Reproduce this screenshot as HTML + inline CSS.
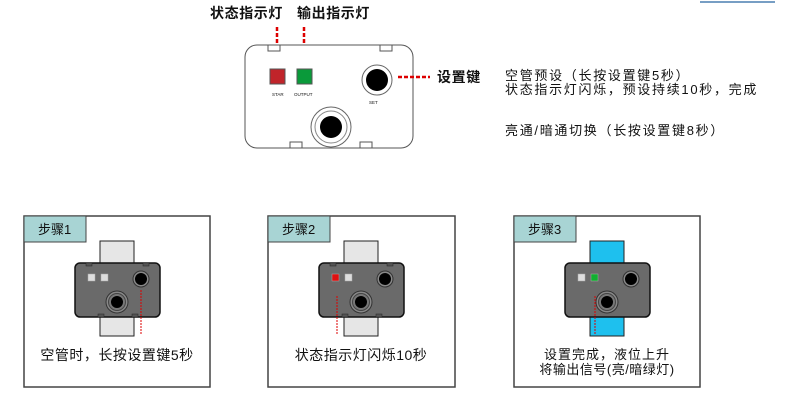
<!DOCTYPE html>
<html><head><meta charset="utf-8"><style>
html,body{margin:0;padding:0;background:#fff;}
svg{display:block;}
text{font-family:"Liberation Sans","Noto Sans CJK SC",sans-serif;fill:#111;}
</style></head><body>
<svg width="790" height="416" viewBox="0 0 790 416" xmlns="http://www.w3.org/2000/svg">
<defs>
<g id="dev">
  <rect x="100" y="241" width="34" height="95" fill="#e6e6e6" stroke="#222" stroke-width="1"/>
  <rect x="75" y="263" width="85" height="54" rx="5" fill="#6a6a6a" stroke="#111" stroke-width="1.5"/>
  <rect x="86" y="263" width="6" height="3" fill="#555" stroke="#222" stroke-width="0.5"/>
  <rect x="143" y="263" width="6" height="3" fill="#555" stroke="#222" stroke-width="0.5"/>
  <rect x="98" y="314" width="6" height="3" fill="#555" stroke="#222" stroke-width="0.5"/>
  <rect x="132" y="314" width="6" height="3" fill="#555" stroke="#222" stroke-width="0.5"/>
  <circle cx="141" cy="279" r="8" fill="#888" stroke="#333"/>
  <circle cx="141" cy="279" r="6" fill="#000"/>
  <circle cx="117" cy="302" r="11" fill="#888" stroke="#333"/>
  <circle cx="117" cy="302" r="8.5" fill="#777" stroke="#444"/>
  <circle cx="117" cy="302" r="6" fill="#000"/>
</g>
</defs>

<line x1="700" y1="2" x2="775" y2="2" stroke="#4a7fb0" stroke-width="1.5"/>

<!-- top device -->
<text x="210" y="18" font-size="14" font-weight="bold" letter-spacing="0.6">状态指示灯</text>
<text x="297" y="18" font-size="14" font-weight="bold" letter-spacing="0.6">输出指示灯</text>
<line x1="277" y1="27" x2="277" y2="60" stroke="#d00" stroke-width="2.5" stroke-dasharray="4,2"/>
<line x1="304" y1="27" x2="304" y2="60" stroke="#d00" stroke-width="2.5" stroke-dasharray="4,2"/>
<rect x="245" y="45" width="168" height="103" rx="12" fill="#fff" stroke="#555" stroke-width="1"/>
<rect x="268" y="45" width="12" height="6" fill="#fff" stroke="#555"/>
<rect x="380" y="45" width="12" height="6" fill="#fff" stroke="#555"/>
<rect x="290" y="142" width="12" height="6" fill="#fff" stroke="#555"/>
<rect x="360" y="142" width="12" height="6" fill="#fff" stroke="#555"/>
<rect x="270" y="69" width="15" height="15" fill="#c0242a" stroke="#555"/>
<rect x="297" y="69" width="15" height="15" fill="#0a9a3a" stroke="#555"/>
<text x="272" y="96" font-size="4.5">STAR</text>
<text x="294" y="96" font-size="4.5">OUTPUT</text>
<circle cx="377" cy="80" r="15" fill="#fff" stroke="#666"/>
<circle cx="377" cy="80" r="11" fill="#000"/>
<text x="369" y="104" font-size="4.5">SET</text>
<circle cx="331" cy="127" r="20" fill="#fff" stroke="#666"/>
<circle cx="331" cy="127" r="16" fill="#fff" stroke="#888"/>
<circle cx="331" cy="127" r="11" fill="#000"/>
<line x1="398" y1="77" x2="430" y2="77" stroke="#d00" stroke-width="2.5" stroke-dasharray="4,2"/>
<text x="437" y="82" font-size="14" font-weight="bold" letter-spacing="0.6">设置键</text>

<text x="505" y="80" font-size="13" letter-spacing="1.7">空管预设（长按设置键5秒）</text>
<text x="505" y="94" font-size="13" letter-spacing="1.7">状态指示灯闪烁，预设持续10秒，完成</text>
<text x="505" y="135" font-size="13" letter-spacing="1.7">亮通/暗通切换（长按设置键8秒）</text>

<!-- panel 1 -->
<rect x="24" y="216" width="186" height="171" fill="#fff" stroke="#444" stroke-width="1.5"/>
<rect x="24" y="216" width="62" height="26" fill="#a8d4d4" stroke="#444" stroke-width="1"/>
<text x="38" y="234" font-size="13">步骤1</text>
<use href="#dev"/>
<rect x="88" y="274" width="7" height="7" fill="#ddd" stroke="#aaa" stroke-width="0.5"/>
<rect x="101" y="274" width="7" height="7" fill="#ddd" stroke="#aaa" stroke-width="0.5"/>
<line x1="141" y1="290" x2="141" y2="335" stroke="#d00" stroke-width="1" stroke-dasharray="2,1"/>
<text x="117" y="360" font-size="14" text-anchor="middle" letter-spacing="0.5">空管时，长按设置键5秒</text>

<!-- panel 2 -->
<rect x="268" y="216" width="187" height="171" fill="#fff" stroke="#444" stroke-width="1.5"/>
<rect x="268" y="216" width="62" height="26" fill="#a8d4d4" stroke="#444" stroke-width="1"/>
<text x="282" y="234" font-size="13">步骤2</text>
<use href="#dev" transform="translate(244,0)"/>
<rect x="332" y="274" width="7" height="7" fill="#e01010" stroke="#aaa" stroke-width="0.5"/>
<rect x="345" y="274" width="7" height="7" fill="#ddd" stroke="#aaa" stroke-width="0.5"/>
<line x1="337" y1="296" x2="337" y2="335" stroke="#d00" stroke-width="1" stroke-dasharray="2,1"/>
<text x="361" y="360" font-size="14" text-anchor="middle" letter-spacing="0.5">状态指示灯闪烁10秒</text>

<!-- panel 3 -->
<rect x="514" y="216" width="186" height="171" fill="#fff" stroke="#444" stroke-width="1.5"/>
<rect x="514" y="216" width="62" height="26" fill="#a8d4d4" stroke="#444" stroke-width="1"/>
<text x="528" y="234" font-size="13">步骤3</text>
<g transform="translate(490,0)">
  <rect x="100" y="241" width="34" height="95" fill="#1ec0ee" stroke="#222" stroke-width="1"/>
  <rect x="75" y="263" width="85" height="54" rx="5" fill="#6a6a6a" stroke="#111" stroke-width="1.5"/>
  <circle cx="141" cy="279" r="8" fill="#888" stroke="#333"/>
  <circle cx="141" cy="279" r="6" fill="#000"/>
  <circle cx="117" cy="302" r="11" fill="#888" stroke="#333"/>
  <circle cx="117" cy="302" r="8.5" fill="#777" stroke="#444"/>
  <circle cx="117" cy="302" r="6" fill="#000"/>
  <rect x="88" y="274" width="7" height="7" fill="#ddd" stroke="#aaa" stroke-width="0.5"/>
  <rect x="101" y="274" width="7" height="7" fill="#10b030" stroke="#aaa" stroke-width="0.5"/>
  <line x1="105" y1="296" x2="105" y2="335" stroke="#d00" stroke-width="1" stroke-dasharray="2,1"/>
</g>
<text x="607" y="359" font-size="13" text-anchor="middle" letter-spacing="1">设置完成，液位上升</text>
<text x="607" y="374" font-size="13" text-anchor="middle" letter-spacing="0.5">将输出信号(亮/暗绿灯)</text>
</svg>
</body></html>
